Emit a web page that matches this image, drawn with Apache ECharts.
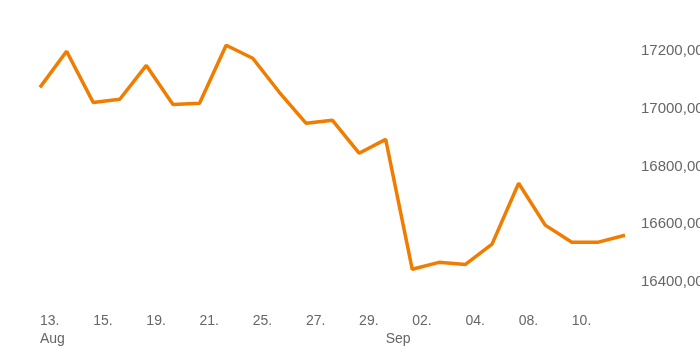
<!DOCTYPE html>
<html lang="en">
<head>
    <meta charset="UTF-8">
    <title>Line</title>
    <script src="https://cdn.jsdelivr.net/npm/echarts@6/dist/echarts.min.js"></script>
    <style>
        html, body { margin: 0; padding: 0; background: #fff; }
    </style>
</head>
<body>
<div id="main" style="width: 700px; height: 350px"></div>
<script type="text/javascript">
    // one label per point, only every other one is shown (plus the month line)
    var dates = ['13.\nAug', '14.', '15.', '18.', '19.', '20.', '21.', '24.', '25.', '26.', '27.', '28.', '29.',
        '\nSep', '02.', '03.', '04.', '07.', '08.', '09.', '10.', '11.', '12.'];
    var shownLabels = [0, 2, 4, 6, 8, 10, 12, 13, 14, 16, 18, 20];
    var values = [17074, 17199, 17022, 17033, 17150, 17015, 17019, 17220, 17175, 17057, 16950, 16960, 16846,
        16894, 16444, 16468, 16461, 16531, 16742, 16597, 16538, 16538, 16562];
    var yTicks = [16400, 16600, 16800, 17000, 17200];

    var labelFont = '"Liberation Sans Narrow", "Liberation Sans", sans-serif';

    var myChart = echarts.init(document.getElementById('main'));
    var option = {
        animation: false,
        grid: {
            left: 40,
            right: 75,
            top: 51,
            bottom: 68,
            outerBoundsMode: 'none'
        },
        xAxis: {
            type: 'category',
            data: dates,
            boundaryGap: false,
            axisLine: {show: false},
            axisTick: {show: false},
            axisLabel: {
                interval: 0,
                align: 'left',
                margin: 30,
                color: '#666',
                fontFamily: labelFont,
                fontSize: 14,
                lineHeight: 18,
                formatter: function (v, i) {
                    return shownLabels.indexOf(i) >= 0 ? v : '';
                }
            }
        },
        yAxis: {
            type: 'value',
            position: 'right',
            min: yTicks[0],
            max: yTicks[yTicks.length - 1],
            interval: 200,
            splitLine: {show: false},
            axisLine: {show: false},
            axisTick: {show: false},
            axisLabel: {
                margin: 16,
                color: '#666',
                fontFamily: labelFont,
                fontSize: 15,
                formatter: function (v) {
                    return v.toFixed(2).replace('.', ',');
                }
            }
        },
        series: [
            {
                type: 'line',
                data: values,
                clip: false,
                symbol: 'none',
                lineStyle: {
                    color: '#f07c00',
                    width: 3.5
                }
            }
        ]
    };
    myChart.setOption(option);
</script>
</body>
</html>
